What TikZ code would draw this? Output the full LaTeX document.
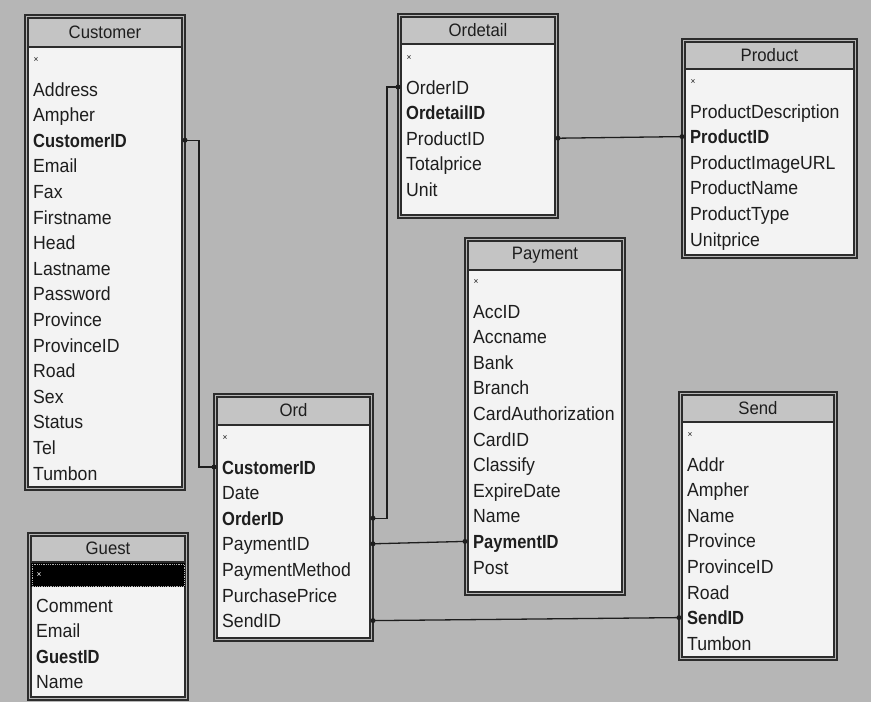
\documentclass[tikz,border=0pt]{standalone}
\usepackage{fontspec}
\setmainfont[FakeStretch=0.93,BoldFeatures={FakeStretch=0.87}]{Liberation Sans}
\begin{document}
\definecolor{canvas}{HTML}{B6B6B6}
\definecolor{headc}{HTML}{C4C4C4}
\definecolor{bodyc}{HTML}{F3F3F3}
\definecolor{ink}{HTML}{1E1E1E}
\definecolor{framec}{HTML}{2C2C2C}
% #1 name, #2 left, #3 top, #4 right, #5 bottom, #6 header bottom,
% #7 title, #8 y of the first (marker) row, #9 fields
\newcommand\erbox[9]{%
  \fill[canvas] (#2,#3) rectangle (#4,#5);
  \draw[frame] (#2,#3) rectangle (#4,#5);
  \fill[headc] (#2+3,#3+3) rectangle (#4-3,#6);
  \fill[bodyc] (#2+3,#6) rectangle (#4-3,#5-3);
  \draw[frame] (#2+3,#3+3) rectangle (#4-3,#5-3);
  \draw[frame] (#2+3,#6) -- (#4-3,#6);
  \node[tabletitle] (#1-title) at ({(#2+#4)/2},{(#3+#6)/2+1}) {#7};
  \node[marker] (#1-0) at (#2+11,#8-3) {×};
  \foreach \f [count=\i] in {#9} {
    \pgfmathsetmacro\rowy{#8+\i*25.6}
    \node[field] (#1-\i) at (#2+8,\rowy+7) {\f};
    \coordinate (#1-\i-l) at (#2,\rowy);
    \coordinate (#1-\i-r) at (#4,\rowy);
  }
}
\begin{tikzpicture}[x=1pt,y=-1pt,
  frame/.style={draw=framec,line width=1.1pt},
  field/.style={anchor=base west,inner sep=0pt,text=ink,
    font=\fontsize{19}{19}\selectfont},
  tabletitle/.style={inner sep=0pt,text=ink,
    font=\fontsize{18}{18}\selectfont},
  marker/.style={inner sep=0pt,text=ink,font=\fontsize{9}{9}\selectfont},
  link/.style={draw=ink,line width=1.3pt},
  enddot/.style={circle,fill=ink,inner sep=0pt,minimum size=5pt}]
\useasboundingbox (0,0) rectangle (871,702);
\fill[canvas] (0,0) rectangle (871,702);

\erbox{cust}{25}{15}{185}{490}{47}{Customer}{63.4}{Address,Ampher,\textbf{CustomerID},Email,Fax,Firstname,Head,Lastname,Password,Province,ProvinceID,Road,Sex,Status,Tel,Tumbon}

\erbox{guest}{28}{533}{188}{700}{562}{Guest}{579.4}{Comment,Email,\textbf{GuestID},Name}
% selected marker row
\fill[black] (31,563) rectangle (185,587);
\draw[white!70!black,densely dotted,line width=0.8pt] (32,564) rectangle (184,586);
\node[marker,text=white] (guest-sel) at (39,575) {×};

\erbox{ord}{214}{394}{373}{641}{425}{Ord}{441.4}{\textbf{CustomerID},Date,\textbf{OrderID},PaymentID,PaymentMethod,PurchasePrice,SendID}

\erbox{odet}{398}{14}{558}{218}{44}{Ordetail}{61.4}{OrderID,\textbf{OrdetailID},ProductID,Totalprice,Unit}

\erbox{prod}{682}{39}{857}{258}{69}{Product}{85.4}{ProductDescription,\textbf{ProductID},ProductImageURL,ProductName,ProductType,Unitprice}

\erbox{pay}{465}{238}{625}{595}{270}{Payment}{285.4}{AccID,Accname,Bank,Branch,CardAuthorization,CardID,Classify,ExpireDate,Name,\textbf{PaymentID},Post}

\erbox{send}{679}{392}{837}{660}{422}{Send}{438.4}{Addr,Ampher,Name,Province,ProvinceID,Road,\textbf{SendID},Tumbon}

% relationships
\draw[link] (cust-3-r) -- ++(14,0) |- (ord-1-l);
\draw[link] (odet-1-l) -- ++(-11,0) |- (ord-3-r);
\draw[link] (ord-4-r) -- (pay-10-l);
\draw[link] (ord-7-r) -- (send-7-l);
\draw[link] (odet-3-r) -- (prod-2-l);
\foreach \p in {cust-3-r,ord-1-l,odet-1-l,ord-3-r,ord-4-r,pay-10-l,ord-7-r,send-7-l,odet-3-r,prod-2-l}
  \node[enddot] at (\p) {};
\end{tikzpicture}
\end{document}
